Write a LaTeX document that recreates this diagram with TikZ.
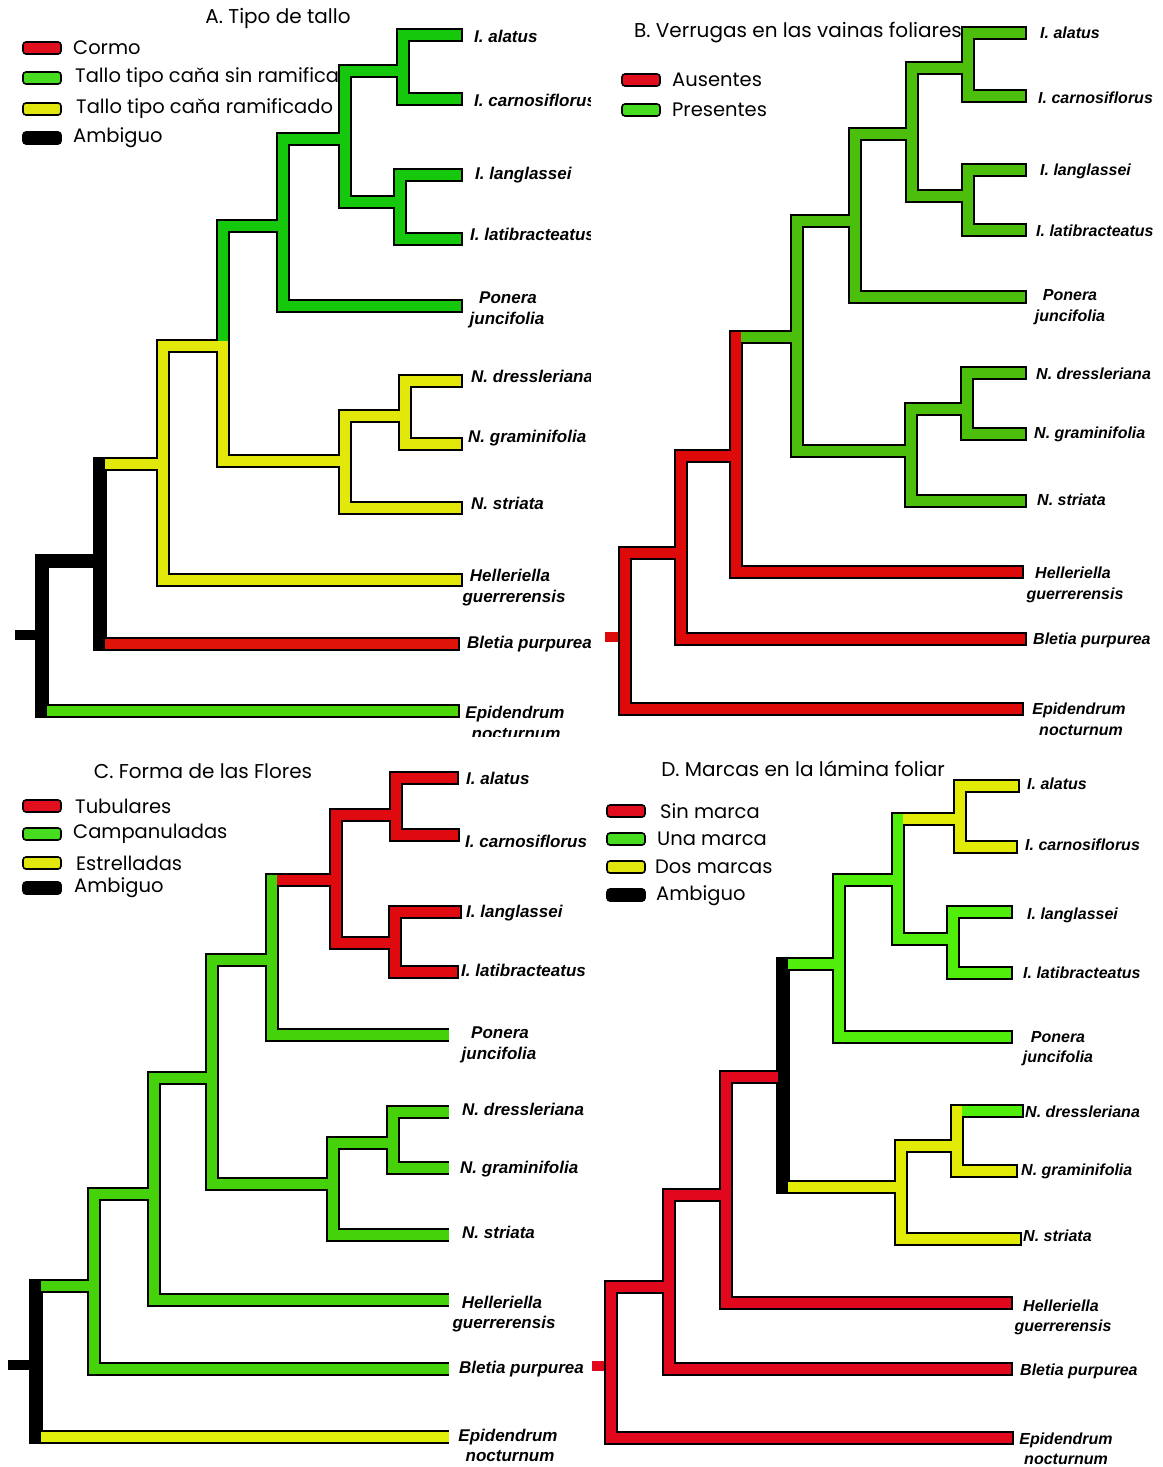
\documentclass[tikz,border=0pt]{standalone}
\usepackage{fontspec}
\setmainfont{Liberation Sans}
\newfontfamily\lgfont{Poppins}
\definecolor{gA}{RGB}{22,200,12}
\definecolor{gAb}{RGB}{75,215,10}
\definecolor{yA}{RGB}{226,232,10}
\definecolor{rA}{RGB}{222,20,10}
\definecolor{gB}{RGB}{76,190,12}
\definecolor{rB}{RGB}{222,10,10}
\definecolor{rC}{RGB}{222,10,15}
\definecolor{gC}{RGB}{70,210,10}
\definecolor{yC}{RGB}{225,240,10}
\definecolor{rD}{RGB}{225,8,30}
\definecolor{gD}{RGB}{80,238,10}
\definecolor{yD}{RGB}{225,235,5}
\definecolor{lgR}{RGB}{225,15,30}
\definecolor{lgG}{RGB}{72,220,32}
\definecolor{lgY}{RGB}{225,230,15}
\tikzset{
  outl/.style={line width=14pt, line cap=rect, draw=black},
  fseg/.style={line width=10.5pt, line cap=rect},
  stubl/.style={line width=10pt, line cap=butt},
  lab/.style={font=\fontsize{16}{19}\selectfont\bfseries\itshape, anchor=base west, inner sep=0pt},
  labc/.style={font=\fontsize{16}{19}\selectfont\bfseries\itshape, anchor=base, inner sep=0pt},
  big/.style={font=\fontsize{17}{20}\selectfont\bfseries\itshape},
  ttl/.style={font=\lgfont\fontsize{20}{24}\selectfont, inner sep=0pt},
  lgt/.style={font=\lgfont\fontsize{19.5}{23}\selectfont, anchor=west, inner sep=0pt},
  sw/.style={draw=black, line width=1.6pt, rounded corners=3pt, minimum width=38pt, minimum height=12pt, inner sep=0pt}
}
\newif\ifoutl
\newcommand\seg[2]{\ifoutl\draw[outl] #2;\else\draw[fseg,draw=#1] #2;\fi}
\newcommand\sego[2]{\ifoutl\draw[outl,line cap=butt] #2;\else\draw[fseg,line cap=butt,draw=#1] #2;\fi}
\newcommand\vb[4]{\seg{#1}{(#2 |- #3) -- (#2 |- #4)}}
\newcommand\hb[3]{\seg{#1}{(#2 |- #3) -- (#3)}}
\newcommand\hbo[3]{\sego{#1}{(#2 |- #3) -- (#3)}}

\newcommand\treeA{%
\vb{gA}{An1}{Aala}{Acar}\hb{gA}{An1}{Aala}\hb{gA}{An1}{Acar}%
\vb{gA}{An2}{Alan}{Alat}\hb{gA}{An2}{Alan}\hb{gA}{An2}{Alat}%
\vb{gA}{An3}{An1}{An2}\hb{gA}{An3}{An1}\hb{gA}{An3}{An2}%
\vb{gA}{An4}{An3}{Apon}\hb{gA}{An4}{An3}\hb{gA}{An4}{Apon}%
\seg{gA}{(An5 |- An4) -- (An5)}\hb{gA}{An5}{An4}%
\seg{yA}{(An5) -- (An5 |- Am2)}\hb{yA}{An5}{Am2}%
\vb{yA}{Am2}{Am1}{Astr}\hb{yA}{Am2}{Am1}\hb{yA}{Am2}{Astr}%
\vb{yA}{Am1}{Adre}{Agra}\hb{yA}{Am1}{Adre}\hb{yA}{Am1}{Agra}%
\vb{yA}{An6}{An5}{Ahel}\hb{yA}{An6}{An5}\hb{yA}{An6}{Ahel}%
\hb{yA}{An7}{An6}\hb{rA}{An7}{Able}\vb{black}{An7}{An6}{Able}%
\hb{gAb}{An8}{Aepi}\hb{black}{An8}{An7}\vb{black}{An8}{An7}{Aepi}%
}
\newcommand\treeB{%
\vb{gB}{Bn1}{Bala}{Bcar}\hb{gB}{Bn1}{Bala}\hb{gB}{Bn1}{Bcar}%
\vb{gB}{Bn2}{Blan}{Blat}\hb{gB}{Bn2}{Blan}\hb{gB}{Bn2}{Blat}%
\vb{gB}{Bn3}{Bn1}{Bn2}\hb{gB}{Bn3}{Bn1}\hb{gB}{Bn3}{Bn2}%
\vb{gB}{Bn4}{Bn3}{Bpon}\hb{gB}{Bn4}{Bn3}\hb{gB}{Bn4}{Bpon}%
\vb{gB}{Bm1}{Bdre}{Bgra}\hb{gB}{Bm1}{Bdre}\hb{gB}{Bm1}{Bgra}%
\vb{gB}{Bm2}{Bm1}{Bstr}\hb{gB}{Bm2}{Bm1}\hb{gB}{Bm2}{Bstr}%
\vb{gB}{Bn5}{Bn4}{Bm2}\hb{gB}{Bn5}{Bn4}\hb{gB}{Bn5}{Bm2}%
\hb{gB}{Bn6}{Bn5}%
\vb{rB}{Bn6}{Bn5}{Bhel}\hb{rB}{Bn6}{Bhel}%
\vb{rB}{Bn7}{Bn6}{Bble}\hb{rB}{Bn7}{Bn6}\hb{rB}{Bn7}{Bble}%
\vb{rB}{Bn8}{Bn7}{Bepi}\hb{rB}{Bn8}{Bn7}\hb{rB}{Bn8}{Bepi}%
}
\newcommand\treeC{%
\vb{rC}{Cn1}{Cala}{Ccar}\hb{rC}{Cn1}{Cala}\hb{rC}{Cn1}{Ccar}%
\vb{rC}{Cn2}{Clan}{Clat}\hb{rC}{Cn2}{Clan}\hb{rC}{Cn2}{Clat}%
\vb{rC}{Cn3}{Cn1}{Cn2}\hb{rC}{Cn3}{Cn1}\hb{rC}{Cn3}{Cn2}%
\hb{rC}{Cn4}{Cn3}%
\vb{gC}{Cn4}{Cn3}{Cpon}\hbo{gC}{Cn4}{Cpon}%
\vb{gC}{Cm1}{Cdre}{Cgra}\hbo{gC}{Cm1}{Cdre}\hbo{gC}{Cm1}{Cgra}%
\vb{gC}{Cm2}{Cm1}{Cstr}\hb{gC}{Cm2}{Cm1}\hbo{gC}{Cm2}{Cstr}%
\vb{gC}{Cn5}{Cn4}{Cm2}\hb{gC}{Cn5}{Cn4}\hb{gC}{Cn5}{Cm2}%
\vb{gC}{Cn6}{Cn5}{Chel}\hb{gC}{Cn6}{Cn5}\hbo{gC}{Cn6}{Chel}%
\vb{gC}{Cn7}{Cn6}{Cble}\hb{gC}{Cn7}{Cn6}\hbo{gC}{Cn7}{Cble}%
\hb{gC}{Cn8}{Cn7}\hbo{yC}{Cn8}{Cepi}\vb{black}{Cn8}{Cn7}{Cepi}%
}
\newcommand\treeD{%
\vb{yD}{Dn1}{Dala}{Dcar}\hb{yD}{Dn1}{Dala}\hb{yD}{Dn1}{Dcar}\hb{yD}{Dn3}{Dn1}%
\vb{gD}{Dn2}{Dlan}{Dlat}\hb{gD}{Dn2}{Dlan}\hb{gD}{Dn2}{Dlat}%
\vb{gD}{Dn3}{Dn1}{Dn2}\hb{gD}{Dn3}{Dn2}%
\vb{gD}{Dn4}{Dn3}{Dpon}\hb{gD}{Dn4}{Dn3}\hb{gD}{Dn4}{Dpon}%
\hb{gD}{Dn5}{Dn4}%
\hb{gD}{Dm1}{Ddre}\vb{yD}{Dm1}{Ddre}{Dgra}\hb{yD}{Dm1}{Dgra}%
\vb{yD}{Dm2}{Dm1}{Dstr}\hb{yD}{Dm2}{Dm1}\hb{yD}{Dm2}{Dstr}%
\hb{yD}{Dn5}{Dm2}%
\hb{rD}{Dn6}{Dn5}\vb{rD}{Dn6}{Dn5}{Dhel}\hb{rD}{Dn6}{Dhel}%
\vb{rD}{Dn7}{Dn6}{Dble}\hb{rD}{Dn7}{Dn6}\hb{rD}{Dn7}{Dble}%
\vb{rD}{Dn8}{Dn7}{Depi}\hb{rD}{Dn8}{Dn7}\hb{rD}{Dn8}{Depi}%
\vb{black}{Dn5}{Dn4}{Dm2}%
}

\begin{document}
\begin{tikzpicture}[x=1pt,y=-1pt]
\useasboundingbox[fill=white] (0,0) rectangle (1162,1467);

% ---------------- Panel A ----------------
\coordinate (Aala) at (456,35);
\coordinate (Acar) at (456,99);
\coordinate (Alan) at (456,175);
\coordinate (Alat) at (456,239);
\coordinate (Apon) at (456,306);
\coordinate (Adre) at (456,381);
\coordinate (Agra) at (456,444);
\coordinate (Astr) at (456,508);
\coordinate (Ahel) at (456,580);
\coordinate (Able) at (453,644);
\coordinate (Aepi) at (453,711);
\coordinate (An1) at (403,71);
\coordinate (An2) at (400,202);
\coordinate (An3) at (345,139);
\coordinate (An4) at (283,226);
\coordinate (An5) at (223,346);
\coordinate (Am1) at (405,416);
\coordinate (Am2) at (345,461);
\coordinate (An6) at (163,464);
\coordinate (An7) at (100,561);
\coordinate (An8) at (42,635);
\coordinate (Aroot) at (15,635);

\node[ttl] (Atitle) at (278,18) {A. Tipo de tallo};
\node[sw,fill=lgR] (As1) at (42,48) {};
\node[sw,fill=lgG] (As2) at (42,78) {};
\node[sw,fill=lgY] (As3) at (42,109) {};
\node[sw,fill=black] (As4) at (42,138) {};
\node[lgt] (At1) at (73,48) {Cormo};
\node[lgt] (At2) at (75,78) {Tallo tipo caňa sin ramifica};
\node[lgt] (At3) at (76,109) {Tallo tipo caňa ramificado};
\node[lgt] (At4) at (73,138) {Ambiguo};

\draw[stubl,black] (Aroot) -- (An8);
\outltrue\treeA
\outlfalse\treeA

\begin{scope}[every node/.append style={big}]
\clip (0,0) rectangle (590,736);
\node[lab,big] (Lala) at (474,42) {I. alatus};
\node[lab,big] (Lcar) at (474,106) {I. carnosiflorus};
\node[lab,big] (Llan) at (475,179) {I. langlassei};
\node[lab,big] (Llat) at (470,240) {I. latibracteatus};
\node[labc,big] (Lpon1) at (508,303) {Ponera};
\node[labc,big] (Lpon2) at (507,324) {juncifolia};
\node[lab,big] (Ldre) at (471,382) {N. dressleriana};
\node[lab,big] (Lgra) at (468,442) {N. graminifolia};
\node[lab,big] (Lstr) at (471,509) {N. striata};
\node[labc,big] (Lhel1) at (510,581) {Helleriella};
\node[labc,big] (Lhel2) at (514,602) {guerrerensis};
\node[lab,big] (Lble) at (467,648) {Bletia purpurea};
\node[labc,big] (Lepi1) at (515,718) {Epidendrum};
\node[labc,big] (Lepi2) at (516,739) {nocturnum};
\end{scope}

% ---------------- Panel B ----------------
\coordinate (Bala) at (1020,33);
\coordinate (Bcar) at (1020,96);
\coordinate (Blan) at (1020,170);
\coordinate (Blat) at (1020,230);
\coordinate (Bpon) at (1020,297);
\coordinate (Bdre) at (1020,373);
\coordinate (Bgra) at (1020,434);
\coordinate (Bstr) at (1020,501);
\coordinate (Bhel) at (1017,572);
\coordinate (Bble) at (1020,639);
\coordinate (Bepi) at (1017,709);
\coordinate (Bn1) at (968,68);
\coordinate (Bn2) at (968,196);
\coordinate (Bn3) at (912,134);
\coordinate (Bn4) at (855,221);
\coordinate (Bm1) at (967,409);
\coordinate (Bm2) at (911,451);
\coordinate (Bn5) at (797,337);
\coordinate (Bn6) at (736,456);
\coordinate (Bn7) at (681,553);
\coordinate (Bn8) at (625,637);
\coordinate (Broot) at (605,637);

\node[ttl] (Btitle) at (798,33) {B. Verrugas en las vainas foliares};
\node[sw,fill=lgR] (Bs1) at (641,80) {};
\node[sw,fill=lgG] (Bs2) at (641,110) {};
\node[lgt] (Bt1) at (672,80) {Ausentes};
\node[lgt] (Bt2) at (672,110) {Presentes};

\draw[stubl,rB] (Broot) -- (Bn8);
\outltrue\treeB
\outlfalse\treeB

\begin{scope}
\clip (590,0) rectangle (1153,740);
\node[lab] (Mala) at (1040,38) {I. alatus};
\node[lab] (Mcar) at (1038,103) {I. carnosiflorus};
\node[lab] (Mlan) at (1040,175) {I. langlassei};
\node[lab] (Mlat) at (1036,236) {I. latibracteatus};
\node[labc] (Mpon1) at (1070,300) {Ponera};
\node[labc] (Mpon2) at (1070,321) {juncifolia};
\node[lab] (Mdre) at (1036,379) {N. dressleriana};
\node[lab] (Mgra) at (1034,438) {N. graminifolia};
\node[lab] (Mstr) at (1037,505) {N. striata};
\node[labc] (Mhel1) at (1073,578) {Helleriella};
\node[labc] (Mhel2) at (1075,599) {guerrerensis};
\node[lab] (Mble) at (1033,644) {Bletia purpurea};
\node[labc] (Mepi1) at (1079,714) {Epidendrum};
\node[labc] (Mepi2) at (1081,735) {nocturnum};
\end{scope}

% ---------------- Panel C ----------------
\coordinate (Cala) at (452,778);
\coordinate (Ccar) at (453,835);
\coordinate (Clan) at (455,912);
\coordinate (Clat) at (452,972);
\coordinate (Cpon) at (449,1035);
\coordinate (Cdre) at (449,1112);
\coordinate (Cgra) at (449,1168);
\coordinate (Cstr) at (449,1235);
\coordinate (Chel) at (449,1300);
\coordinate (Cble) at (449,1369);
\coordinate (Cepi) at (449,1437);
\coordinate (Cn1) at (396,815);
\coordinate (Cn2) at (395,943);
\coordinate (Cn3) at (336,880);
\coordinate (Cn4) at (272,960);
\coordinate (Cm1) at (393,1143);
\coordinate (Cm2) at (333,1184);
\coordinate (Cn5) at (212,1078);
\coordinate (Cn6) at (154,1194);
\coordinate (Cn7) at (94,1286);
\coordinate (Cn8) at (36,1365);
\coordinate (Croot) at (8,1365);

\node[ttl] (Ctitle) at (203,771) {C. Forma de las Flores};
\node[sw,fill=lgR] (Cs1) at (42,806) {};
\node[sw,fill=lgG] (Cs2) at (42,834) {};
\node[sw,fill=lgY] (Cs3) at (42,863) {};
\node[sw,fill=black] (Cs4) at (42,888) {};
\node[lgt] (Ct1) at (75,806) {Tubulares};
\node[lgt] (Ct2) at (73,834) {Campanuladas};
\node[lgt] (Ct3) at (76,863) {Estrelladas};
\node[lgt] (Ct4) at (74,888) {Ambiguo};

\draw[stubl,black] (Croot) -- (Cn8);
\outltrue\treeC
\outlfalse\treeC

\begin{scope}
\clip (0,740) rectangle (586,1467);
\node[lab,big] (Nala) at (466,784) {I. alatus};
\node[lab,big] (Ncar) at (465,847) {I. carnosiflorus};
\node[lab,big] (Nlan) at (466,917) {I. langlassei};
\node[lab,big] (Nlat) at (461,976) {I. latibracteatus};
\node[labc,big] (Npon1) at (500,1038) {Ponera};
\node[labc,big] (Npon2) at (499,1059) {juncifolia};
\node[lab,big] (Ndre) at (462,1115) {N. dressleriana};
\node[lab,big] (Ngra) at (460,1173) {N. graminifolia};
\node[lab,big] (Nstr) at (462,1238) {N. striata};
\node[labc,big] (Nhel1) at (502,1308) {Helleriella};
\node[labc,big] (Nhel2) at (504,1328) {guerrerensis};
\node[lab,big] (Nble) at (459,1373) {Bletia purpurea};
\node[labc,big] (Nepi1) at (508,1441) {Epidendrum};
\node[labc,big] (Nepi2) at (510,1461) {nocturnum};
\end{scope}

% ---------------- Panel D ----------------
\coordinate (Dala) at (1013,786);
\coordinate (Dcar) at (1011,847);
\coordinate (Dlan) at (1006,912);
\coordinate (Dlat) at (1006,973);
\coordinate (Dpon) at (1006,1037);
\coordinate (Ddre) at (1017,1111);
\coordinate (Dgra) at (1011,1171);
\coordinate (Dstr) at (1015,1239);
\coordinate (Dhel) at (1006,1303);
\coordinate (Dble) at (1006,1369);
\coordinate (Depi) at (1007,1438);
\coordinate (Dn1) at (960,819);
\coordinate (Dn2) at (953,939);
\coordinate (Dn3) at (898,880);
\coordinate (Dn4) at (839,964);
\coordinate (Dm1) at (957,1146);
\coordinate (Dm2) at (901,1187);
\coordinate (Dn5) at (783,1077);
\coordinate (Dn6) at (726,1195);
\coordinate (Dn7) at (669,1287);
\coordinate (Dn8) at (611,1366);
\coordinate (Droot) at (592,1366);

\node[ttl] (Dtitle) at (803,769) {D. Marcas en la lámina foliar};
\node[sw,fill=lgR] (Ds1) at (626,811) {};
\node[sw,fill=lgG] (Ds2) at (626,839) {};
\node[sw,fill=lgY] (Ds3) at (626,867) {};
\node[sw,fill=black] (Ds4) at (626,895) {};
\node[lgt] (Dt1) at (660,811) {Sin marca};
\node[lgt] (Dt2) at (657,839) {Una marca};
\node[lgt] (Dt3) at (655,867) {Dos marcas};
\node[lgt] (Dt4) at (656,896) {Ambiguo};

\draw[stubl,rD] (Droot) -- (Dn8);
\outltrue\treeD
\outlfalse\treeD

\begin{scope}
\clip (590,740) rectangle (1141,1467);
\node[lab] (Oala) at (1027,789) {I. alatus};
\node[lab] (Ocar) at (1025,850) {I. carnosiflorus};
\node[lab] (Olan) at (1027,919) {I. langlassei};
\node[lab] (Olat) at (1023,978) {I. latibracteatus};
\node[labc] (Opon1) at (1058,1042) {Ponera};
\node[labc] (Opon2) at (1058,1062) {juncifolia};
\node[lab] (Odre) at (1025,1117) {N. dressleriana};
\node[lab] (Ogra) at (1021,1175) {N. graminifolia};
\node[lab] (Ostr) at (1023,1241) {N. striata};
\node[labc] (Ohel1) at (1061,1311) {Helleriella};
\node[labc] (Ohel2) at (1063,1331) {guerrerensis};
\node[lab] (Oble) at (1020,1375) {Bletia purpurea};
\node[labc] (Oepi1) at (1066,1444) {Epidendrum};
\node[labc] (Oepi2) at (1066,1464) {nocturnum};
\end{scope}
\end{tikzpicture}
\end{document}
